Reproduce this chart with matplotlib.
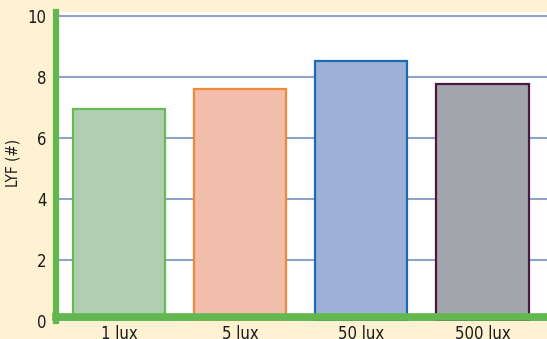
import matplotlib
matplotlib.use("Agg")
import matplotlib.pyplot as plt

categories = ["1 lux", "5 lux", "50 lux", "500 lux"]
values = [6.95, 7.6, 8.5, 7.75]
y_ticks = [0, 2, 4, 6, 8, 10]

fill_colors = ["#B0CFB2", "#F2BEAB", "#9DB0D6", "#A3A6AD"]
edge_colors = ["#66BB55", "#F08A3A", "#1E6AB5", "#4A1A45"]

plt.rcParams["font.family"] = ["DejaVu Sans"]
plt.rcParams["font.stretch"] = "condensed"

fig = plt.figure(figsize=(5.47, 3.39), dpi=100)
fig.patch.set_facecolor("#FFF2D3")
ax = fig.add_axes([0.1024, 0.0531, 0.8976, 0.9115])
ax.set_facecolor("white")

x = range(len(categories))
ax.bar(x, values, width=0.76, color=fill_colors, edgecolor=edge_colors,
       linewidth=1.6, zorder=3)

ax.set_xlim(-0.52, 3.532)
ax.set_ylim(0, 10.12)
ax.set_yticks(y_ticks)
ax.set_yticklabels([str(t) for t in y_ticks])
ax.set_xticks(list(x))
ax.set_xticklabels(categories)
ax.yaxis.grid(True, color="#8FA3C8", linewidth=1.5, zorder=1)
ax.set_axisbelow(True)

for s in ["top", "right"]:
    ax.spines[s].set_visible(False)
ax.spines["left"].set_color("#62B84E")
ax.spines["left"].set_linewidth(4.5)
ax.spines["bottom"].set_color("#62B84E")
ax.spines["bottom"].set_linewidth(5.5)
ax.spines["bottom"].set_position(("outward", -3))
ax.spines["left"].set_zorder(5)
ax.spines["bottom"].set_zorder(5)

ax.tick_params(axis="y", length=0, pad=7, labelsize=12, labelcolor="#1A1A1A")
ax.tick_params(axis="x", length=0, pad=6, labelsize=12, labelcolor="#1A1A1A")

ax.set_ylabel("LYF (#)", fontsize=11, color="#1A1A1A")
ax.yaxis.set_label_coords(-0.0733, 0.51)

fig.savefig("out.png", dpi=100, facecolor=fig.get_facecolor())
